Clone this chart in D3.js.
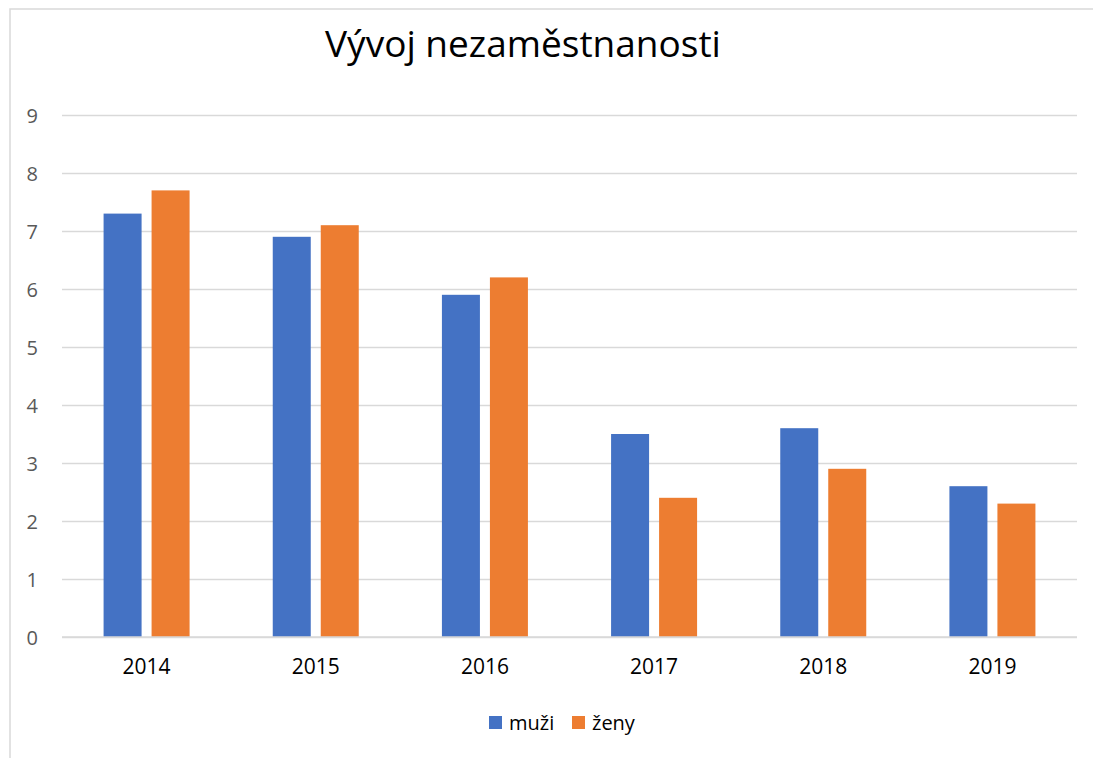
<!DOCTYPE html>
<html><head><meta charset="utf-8">
<script src="https://cdn.jsdelivr.net/npm/d3@7"></script>
<style>html,body{margin:0;padding:0;background:#fff;}svg{display:block;}</style>
</head><body>
<svg id="chart" width="1093" height="758"></svg>
<script>
const categories = ["2014","2015","2016","2017","2018","2019"];
const seriesNames = ["muži","ženy"];
const muzi = [7.3, 6.9, 5.9, 3.5, 3.6, 2.6];
const zeny = [7.7, 7.1, 6.2, 2.4, 2.9, 2.3];
const yTicks = [0,1,2,3,4,5,6,7,8,9];
const colors = ["#4472C4", "#ED7D31"];
const title = "Vývoj nezaměstnanosti";

(function(){
const svg = d3.select("#chart");
const font = "'Open Sans', 'Liberation Sans', sans-serif";

// outer border (cropped at right and bottom)
svg.append("rect").attr("x",10).attr("y",9).attr("width",1100).attr("height",800)
  .attr("fill","#fff").attr("stroke","#d9d9d9").attr("stroke-width",1.5);

const pLeft = 62, pRight = 1077, pTop = 115, pBottom = 637;
const x0 = d3.scaleBand().domain(categories).range([pLeft,pRight]).paddingInner(0).paddingOuter(0);
const bw = x0.bandwidth();
const barW = 38, gap = 10;
const step = barW + gap;
const pi = gap/step;
const po = (bw/step - 2 + pi)/2;
const x1 = d3.scaleBand().domain(seriesNames).range([0,bw]).paddingInner(pi).paddingOuter(po);
const y = d3.scaleLinear().domain([0,9]).range([pBottom,pTop]);

// gridlines
const yAxis = d3.axisLeft(y).tickValues(yTicks).tickSize(-(pRight-pLeft)).tickPadding(16).tickFormat(d3.format("d"));
const gy = svg.append("g").attr("transform",`translate(${pLeft},0)`).call(yAxis);
gy.select(".domain").remove();
gy.selectAll(".tick line").attr("stroke","#d9d9d9").attr("stroke-width",1.3);
gy.selectAll(".tick text").attr("fill","#595959").style("font-family",font).style("font-size","20px").attr("x",-24).attr("dy","0.35em");

const data = categories.map((c,i)=>({cat:c, values:[muzi[i], zeny[i]]}));
const groups = svg.append("g").selectAll("g").data(data).join("g")
  .attr("transform",d=>`translate(${x0(d.cat)},0)`);
groups.selectAll("rect").data(d=>d.values.map((v,j)=>({s:seriesNames[j], v, j})))
  .join("rect")
  .attr("x",d=>x1(d.s)).attr("width",x1.bandwidth())
  .attr("y",d=>y(d.v)).attr("height",d=>y(0)-y(d.v))
  .attr("fill",d=>colors[d.j]);

// baseline redraw
svg.append("line").attr("x1",pLeft).attr("x2",pRight).attr("y1",y(0)).attr("y2",y(0)).attr("stroke","#d9d9d9").attr("stroke-width",1.3);

// x axis labels
const xAxis = d3.axisBottom(x0).tickSize(0).tickPadding(22);
const gx = svg.append("g").attr("transform",`translate(0,${pBottom})`).call(xAxis);
gx.select(".domain").remove();
gx.selectAll(".tick text").attr("fill","#000").style("font-family",font).style("font-size","21px");

// title
svg.append("text").attr("x",523).attr("y",57).attr("text-anchor","middle")
  .style("font-family",font).style("font-size","37px").attr("fill","#000").text(title);

// legend
const legendX = [489, 572];
const lg = svg.append("g").selectAll("g").data(seriesNames).join("g")
  .attr("transform",(d,i)=>`translate(${legendX[i]},716)`);
lg.append("rect").attr("width",13).attr("height",13).attr("fill",(d,i)=>colors[i]);
lg.append("text").attr("x",20).attr("y",6.5).attr("dy","0.35em").style("font-family",font).style("font-size","20px").attr("fill","#000").text(d=>d);
})();
</script>
</body></html>
